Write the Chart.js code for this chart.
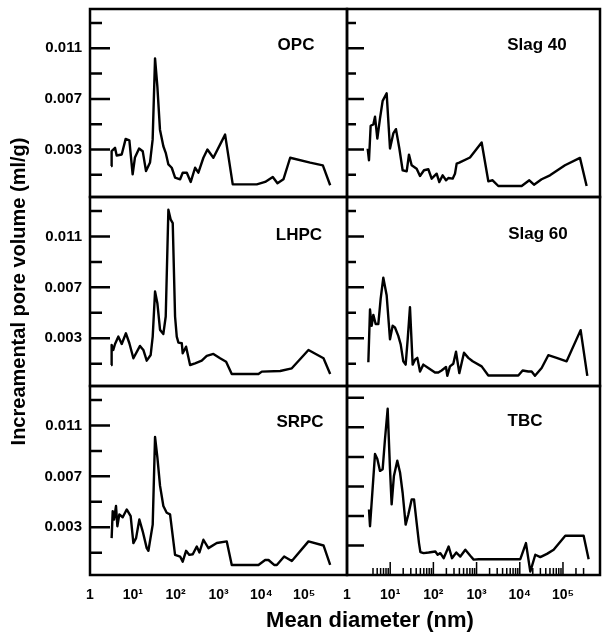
<!DOCTYPE html>
<html>
<head>
<meta charset="utf-8">
<script src="https://cdn.jsdelivr.net/npm/chart.js@4.4.1/dist/chart.umd.min.js"></script>
<style>
  html, body { margin: 0; padding: 0; background: #fff; }
  #wrap { position: relative; width: 603px; height: 633px; }
  #wrap canvas { position: absolute; left: 0; top: 0; }
</style>
</head>
<body>
<div id="wrap">
  <canvas id="opc" width="603" height="633"></canvas>
  <canvas id="slag40" width="603" height="633"></canvas>
  <canvas id="lhpc" width="603" height="633"></canvas>
  <canvas id="slag60" width="603" height="633"></canvas>
  <canvas id="srpc" width="603" height="633"></canvas>
  <canvas id="tbc" width="603" height="633"></canvas>
</div>
<script>
// ---- data (mean diameter in nm, incremental pore volume in ml/g) ----

const opcDiameter = [3.1, 3.2, 3.84, 4.2, 5.5, 6.8, 8.3, 9.9, 11.2, 14, 17, 20.3, 25.2, 29, 33, 37.4, 43, 51.6, 58.6, 67.6, 81, 97, 127, 146, 182, 225, 284, 339, 444, 551, 759, 1426, 2150, 7840, 12270, 18500, 23800, 32800, 47100, 138000, 273000, 405000];
const opcVolume = [0.00169, 0.00287, 0.00313, 0.00253, 0.00261, 0.00384, 0.00373, 0.00104, 0.00237, 0.00308, 0.00287, 0.0013, 0.00198, 0.00378, 0.0102, 0.00797, 0.00457, 0.00326, 0.00274, 0.00182, 0.00156, 0.00078, 0.00065, 0.00117, 0.00117, 0.00044, 0.00156, 0.00117, 0.00235, 0.003, 0.00235, 0.00418, 0.00025, 0.00025, 0.00044, 0.00083, 0.00033, 0.00065, 0.00235, 0.00196, 0.00175, 0.00018];

const slag40Diameter = [3.01, 3.23, 3.53, 4.07, 4.45, 5.04, 5.81, 6.69, 8.28, 9.9, 11.8, 13.6, 16.3, 19.4, 24.1, 27.2, 31.4, 41, 49, 60.6, 76.3, 91.2, 119, 137, 164, 196, 222, 279, 316, 346, 398, 704, 1310, 1870, 2350, 3185, 7085, 11050, 16620, 21320, 32080, 50020, 111300, 247500, 353000];
const slag40Volume = [0.00308, 0.00215, 0.00488, 0.00498, 0.00559, 0.00387, 0.00546, 0.00684, 0.00744, 0.00308, 0.00427, 0.00461, 0.00308, 0.00136, 0.00128, 0.0026, 0.00176, 0.00149, 0.00091, 0.00136, 0.00144, 0.0007, 0.00109, 0.00043, 0.00096, 0.00057, 0.00075, 0.0007, 0.00109, 0.00189, 0.00197, 0.00237, 0.00356, 0.00049, 0.00057, 0.00012, 0.00012, 0.00012, 0.00057, 0.00022, 0.00065, 0.00096, 0.00176, 0.00234, 0.00012];

const lhpcDiameter = [3.1, 3.2, 3.5, 3.84, 4.6, 5.5, 6.9, 8.3, 10.3, 14.7, 17.6, 21.1, 26.1, 29.1, 33, 37.4, 43.2, 51.6, 58.6, 67.6, 76.7, 85.4, 96.8, 106, 116, 139, 146, 175, 217, 284, 406, 532, 760, 1090, 1505, 2040, 8570, 10270, 27500, 51500, 126000, 283000, 405000];
const lhpcVolume = [0.0009, 0.00248, 0.00208, 0.00255, 0.00313, 0.00255, 0.00339, 0.00261, 0.00143, 0.0024, 0.00208, 0.00124, 0.00169, 0.00313, 0.00667, 0.00576, 0.00366, 0.00334, 0.00471, 0.0131, 0.01232, 0.01205, 0.00471, 0.00313, 0.00266, 0.00261, 0.00182, 0.00234, 0.0009, 0.00103, 0.00124, 0.00161, 0.00177, 0.00143, 0.00116, 0.00019, 0.00019, 0.00038, 0.00043, 0.00064, 0.00208, 0.00143, 0.00019];

const slag60Diameter = [3.12, 3.41, 3.72, 4.07, 4.61, 5.31, 6.02, 6.93, 8.28, 9.9, 11.4, 12.9, 15.4, 17.5, 20.1, 22.8, 25.4, 28.7, 33.1, 37.5, 42.5, 49, 58.5, 76.3, 109, 130, 155, 196, 210, 242, 289, 334, 398, 511, 644, 811, 1310, 1870, 9250, 11650, 15760, 18820, 22480, 32080, 45770, 71350, 121600, 256400, 365900];
const slag60Volume = [0.00111, 0.00526, 0.00398, 0.00484, 0.00412, 0.00412, 0.00611, 0.00776, 0.00638, 0.00292, 0.00398, 0.00385, 0.00319, 0.00252, 0.00119, 0.00093, 0.00292, 0.00545, 0.00093, 0.00132, 0.00146, 0.00039, 0.00093, 0.00066, 0.00031, 0.00031, 0.00047, 0.00074, 0.00005, 0.00079, 0.001, 0.00194, 0.00026, 0.00186, 0.00146, 0.00119, 0.00079, 0.00007, 0.00007, 0.00047, 0.00039, 0.00039, 0.00005, 0.00066, 0.00167, 0.00146, 0.00119, 0.00364, 0.00005];

const srpcDiameter = [3.2, 3.39, 3.64, 4.05, 4.35, 4.84, 5.8, 7.19, 8.9, 10.3, 11.9, 14.2, 17, 21.1, 23.1, 29.1, 33, 37.4, 43.2, 51.6, 61.8, 74, 96.8, 127, 146, 175, 209, 251, 311, 359, 444, 582, 912, 1560, 2040, 8570, 12270, 14700, 19900, 23000, 34100, 51500, 126000, 283000, 405000];
const srpcVolume = [0.00215, 0.00427, 0.00361, 0.00467, 0.00308, 0.00401, 0.00379, 0.0044, 0.00387, 0.00176, 0.00215, 0.00361, 0.00268, 0.00136, 0.00115, 0.00321, 0.0101, 0.0085, 0.00625, 0.00467, 0.00414, 0.00401, 0.00083, 0.0007, 0.0003, 0.00115, 0.00083, 0.00088, 0.00149, 0.00102, 0.00202, 0.00136, 0.00176, 0.00189, 0.00004, 0.00004, 0.00043, 0.00043, 0.00004, 0.00004, 0.0007, 0.00035, 0.00189, 0.00157, 0.00004];

const tbcDiameter = [3.23, 3.41, 4.45, 5.04, 5.81, 6.69, 7.58, 8.74, 9.9, 10.8, 12.2, 14.6, 16.9, 19.4, 22.8, 26.3, 31.4, 35.6, 41, 46.4, 50, 59.5, 77.7, 111, 125.6, 144.7, 172.9, 225.6, 269.5, 339.6, 420.3, 548.6, 715.9, 855.2, 1116, 10290, 13910, 17530, 22880, 29870, 42620, 60810, 113200, 300900, 392800];
const tbcVolume = [0.00444, 0.0033, 0.00819, 0.00785, 0.00705, 0.00717, 0.00921, 0.01126, 0.00717, 0.00478, 0.00671, 0.00774, 0.00694, 0.00557, 0.00341, 0.0041, 0.00512, 0.00512, 0.00353, 0.00216, 0.00155, 0.00148, 0.00152, 0.00159, 0.00137, 0.00148, 0.00114, 0.00193, 0.00114, 0.00152, 0.00125, 0.00171, 0.0013, 0.00104, 0.00107, 0.00107, 0.00216, 0.00023, 0.00137, 0.00121, 0.00143, 0.00171, 0.00266, 0.00266, 0.00107];

// ---- ticks ----
const xTickValues = [1, 10, 100, 1000, 10000, 100000];
const xTickLabels = ['1', '10\u00b9', '10\u00b2', '10\u00b3', '10\u2074', '10\u2075'];
const yMajorTicks = [0.003, 0.007, 0.011];
const yMinorTicks = [0.001, 0.005, 0.009, 0.013];
const tbcYTicks = [0.002, 0.004, 0.006, 0.008, 0.010, 0.012];
const tbcDecadeTicks = [10, 100, 1000, 10000, 100000];
const tbcMinorTicks = [4, 5, 6, 7, 8, 9, 20, 30, 40, 50, 60, 70, 80, 90, 200, 300, 400, 500, 600, 700, 800, 900,
  2000, 3000, 4000, 5000, 6000, 7000, 8000, 9000, 20000, 30000, 40000, 50000, 60000, 70000, 80000, 90000, 200000, 300000];

// ---- layout of the grid (pixels) ----
const colX = [90, 347, 600];
const rowY = [9, 197, 386, 575];
const FONT = '"Liberation Sans", Arial, Helvetica, sans-serif';

Chart.defaults.font.family = FONT;
Chart.defaults.color = '#000';

// frame, inward tick marks and panel name
const panelDecor = {
  id: 'panelDecor',
  afterDraw(chart, args, o) {
    const { ctx, chartArea: a, scales } = chart;
    ctx.save();
    ctx.strokeStyle = '#000';
    ctx.lineWidth = 2.5;
    ctx.strokeRect(a.left, a.top, a.right - a.left, a.bottom - a.top);

    ctx.beginPath();
    o.yMajor.forEach(v => {
      const y = scales.y.getPixelForValue(v);
      ctx.moveTo(a.left, y); ctx.lineTo(a.left + o.majorLen, y);
    });
    o.yMinor.forEach(v => {
      const y = scales.y.getPixelForValue(v);
      ctx.moveTo(a.left, y); ctx.lineTo(a.left + o.minorLen, y);
    });
    ctx.stroke();

    if (o.xMajor.length || o.xMinor.length) {
      ctx.lineWidth = 1.5;
      ctx.beginPath();
      o.xMajor.forEach(v => {
        const x = scales.x.getPixelForValue(v);
        ctx.moveTo(x, a.bottom); ctx.lineTo(x, a.bottom - 13);
      });
      o.xMinor.forEach(v => {
        const x = scales.x.getPixelForValue(v);
        ctx.moveTo(x, a.bottom); ctx.lineTo(x, a.bottom - 7);
      });
      ctx.stroke();
    }

    ctx.fillStyle = '#000';
    ctx.font = 'bold 17px ' + FONT;
    ctx.textAlign = 'center';
    ctx.textBaseline = 'middle';
    ctx.fillText(o.name, a.left + o.labelDx, a.top + o.labelDy);
    ctx.restore();
  }
};

function makePanel(id, col, row, diam, vol, cfg) {
  const left = colX[col], right = colX[col + 1];
  const top = rowY[row], bottom = rowY[row + 1];
  const padLeft = cfg.padLeft || 0;
  const yWidth = left - padLeft;
  const titleH = cfg.xTitle ? 23 : 0;
  const xHeight = 633 - bottom - titleH;
  const showX = row === 2;
  const showY = col === 0;

  new Chart(document.getElementById(id), {
    type: 'line',
    data: {
      datasets: [{
        data: diam.map((d, i) => ({ x: d, y: vol[i] })),
        borderColor: '#000',
        borderWidth: 2.4,
        borderJoinStyle: 'round',
        pointRadius: 0,
        tension: 0,
        fill: false
      }]
    },
    options: {
      responsive: false,
      animation: false,
      devicePixelRatio: 1,
      layout: { padding: { left: padLeft, top: top, right: 603 - right, bottom: 0 }, autoPadding: false },
      plugins: {
        legend: { display: false },
        tooltip: { enabled: false },
        title: cfg.xTitle ? {
          display: true, position: 'bottom', text: cfg.xTitle, color: '#000',
          font: { size: 22, weight: 'bold', lineHeight: 1 },
          padding: { top: 0, bottom: 1 }
        } : { display: false },
        panelDecor: {
          name: cfg.name,
          labelDx: cfg.labelDx, labelDy: cfg.labelDy,
          yMajor: cfg.yMajor, yMinor: cfg.yMinor,
          majorLen: cfg.majorLen, minorLen: cfg.minorLen,
          xMajor: cfg.xMajor || [], xMinor: cfg.xMinor || []
        }
      },
      scales: {
        x: {
          type: 'logarithmic',
          position: 'bottom',
          bounds: 'data',
          min: 1,
          max: cfg.xMax,
          afterBuildTicks: s => { s.ticks = showX ? xTickValues.map(v => ({ value: v })) : []; },
          afterFit: s => { s.height = xHeight; s.paddingLeft = 0; s.paddingRight = 0; },
          grid: { display: false, drawTicks: false },
          border: { display: false },
          ticks: {
            display: showX, autoSkip: false, maxRotation: 0, padding: 12, color: '#000',
            font: { size: 14, weight: 'bold' },
            callback: (v, i) => xTickLabels[i]
          }
        },
        y: {
          type: 'linear',
          position: 'left',
          bounds: 'data',
          min: cfg.yMin,
          max: cfg.yMax,
          afterBuildTicks: s => { s.ticks = showY ? yMajorTicks.map(v => ({ value: v })) : []; },
          afterFit: s => { s.width = yWidth; s.paddingTop = 0; s.paddingBottom = 0; },
          grid: { display: false, drawTicks: false },
          border: { display: false },
          title: cfg.yTitle ? {
            display: true, text: cfg.yTitle, color: '#000',
            font: { size: 20, weight: 'bold' },
            padding: { top: 7, bottom: 0 }
          } : { display: false },
          ticks: {
            display: showY, padding: 8, color: '#000',
            font: { size: 15, weight: 'bold' },
            callback: v => v.toFixed(3)
          }
        }
      }
    },
    plugins: [panelDecor]
  });
}

const leftTicks = { yMajor: yMajorTicks, yMinor: yMinorTicks, majorLen: 20, minorLen: 12, yMin: -0.00075, yMax: 0.0141, xMax: 1e6 };
const rightTicks = { yMajor: yMajorTicks, yMinor: yMinorTicks, majorLen: 17, minorLen: 9, yMin: -0.00075, yMax: 0.0141, xMax: 7.2e5 };

makePanel('opc', 0, 0, opcDiameter, opcVolume, { ...leftTicks, name: 'OPC', labelDx: 206, labelDy: 36 });
makePanel('slag40', 1, 0, slag40Diameter, slag40Volume, { ...rightTicks, name: 'Slag 40', labelDx: 190, labelDy: 36 });
makePanel('lhpc', 0, 1, lhpcDiameter, lhpcVolume, { ...leftTicks, name: 'LHPC', labelDx: 209, labelDy: 38,
  yTitle: 'Increamental pore volume (ml/g)' });
makePanel('slag60', 1, 1, slag60Diameter, slag60Volume, { ...rightTicks, name: 'Slag 60', labelDx: 191, labelDy: 37 });
makePanel('srpc', 0, 2, srpcDiameter, srpcVolume, { ...leftTicks, name: 'SRPC', labelDx: 210, labelDy: 36 });
makePanel('tbc', 1, 2, tbcDiameter, tbcVolume, {
  yMajor: tbcYTicks, yMinor: [], majorLen: 17, minorLen: 0, yMin: 0, yMax: 0.0128, xMax: 7.2e5,
  xMajor: tbcDecadeTicks, xMinor: tbcMinorTicks,
  name: 'TBC', labelDx: 178, labelDy: 35,
  padLeft: 140, xTitle: 'Mean diameter (nm)'
});
</script>
</body>
</html>
